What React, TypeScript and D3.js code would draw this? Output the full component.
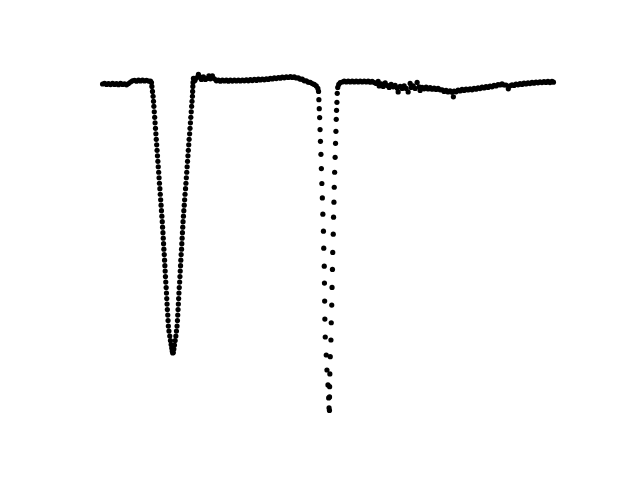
import React from "react";
import * as d3 from "d3";

// light curve readings: [time (min), relative flux (%)]
const preIngress: [number, number][] = [
  [0, 99.6], [4, 99.75], [8, 99.5], [12, 99.7], [16, 99.45], [20, 99.75],
  [24, 99.5], [28, 99.68], [32, 99.42], [36, 99.75], [40, 99.5], [44, 99.65],
  [48, 99.4], [52, 99.7], [56, 100.1], [60, 100.4], [64, 100.5], [68, 100.28],
  [72, 100.55], [76, 100.35], [80, 100.6], [84, 100.35], [88, 100.52],
  [92, 100.32], [96, 100.3], [98, 99.95],
];

const primaryIngress: [number, number][] = [
  [98.8, 99.0], [100.0, 97.75], [101.2, 96.5], [102.1, 95.25], [102.8, 94.0],
  [103.6, 92.62], [104.4, 91.25], [105.2, 89.88], [106.0, 88.5], [106.8, 87.12],
  [107.6, 85.75], [108.4, 84.38], [109.2, 83.0], [110.0, 81.62], [110.8, 80.25],
  [111.6, 78.88], [112.4, 77.5], [113.2, 76.12], [114.0, 74.75], [114.8, 73.38],
  [115.6, 72.0], [116.4, 70.62], [117.2, 69.25], [118.0, 67.88], [118.8, 66.5],
  [119.6, 65.12], [120.2, 63.75], [121.0, 62.38], [121.6, 61.0], [122.2, 59.62],
  [122.8, 58.25], [123.6, 56.88], [124.2, 55.5], [124.8, 54.12], [125.4, 52.75],
  [126.0, 51.38], [126.6, 50.0], [127.4, 48.62], [128.0, 47.25], [128.6, 45.88],
  [129.2, 44.5], [129.8, 43.12], [130.6, 41.75], [131.2, 40.38], [131.8, 39.0],
  [133.0, 37.75], [134.6, 36.5], [136.0, 35.38], [137.4, 34.38], [138.6, 33.5],
  [139.6, 32.75], [140.6, 32.25], [141.6, 32.38],
];

const primaryEgress: [number, number][] = [
  [142.8, 33.25], [144.0, 34.25], [145.4, 35.38], [146.8, 36.5], [148.0, 37.75],
  [149.2, 39.0], [150.0, 40.38], [150.6, 41.75], [151.2, 43.12], [151.8, 44.5],
  [152.4, 45.88], [153.0, 47.25], [153.6, 48.62], [154.4, 50.0], [155.0, 51.38],
  [155.6, 52.75], [156.2, 54.12], [156.8, 55.5], [157.4, 56.88], [158.2, 58.25],
  [158.8, 59.62], [159.4, 61.0], [160.0, 62.38], [160.6, 63.75], [161.2, 65.12],
  [162.0, 66.5], [162.8, 67.88], [163.6, 69.25], [164.4, 70.62], [165.2, 72.0],
  [166.2, 73.38], [167.0, 74.75], [167.8, 76.12], [168.6, 77.5], [169.4, 78.88],
  [170.2, 80.25], [171.0, 81.62], [171.8, 83.0], [172.6, 84.38], [173.4, 85.75],
  [174.4, 87.12], [175.2, 88.5], [176.0, 89.88], [176.8, 91.25], [177.6, 92.62],
  [178.4, 94.0], [179.2, 95.25], [180.0, 96.5], [180.4, 97.75], [180.8, 99.0],
  [181.2, 100.0],
];

const midOrbit: [number, number][] = [
  [182, 101.0], [185, 100.5], [188, 101.12], [192, 102.0], [195, 101.38],
  [198, 100.75], [202, 101.38], [206, 100.75], [210, 101.0], [213, 101.62],
  [216, 100.88], [220, 101.62], [224, 100.88], [228, 100.38], [232, 100.6],
  [236, 100.3], [240, 100.6], [244, 100.35], [248, 100.55], [252, 100.3],
  [256, 100.6], [260, 100.32], [264, 100.58], [268, 100.35], [272, 100.6],
  [276, 100.35], [280, 100.6], [284, 100.4], [288, 100.65], [292, 100.4],
  [296, 100.7], [300, 100.45], [304, 100.75], [308, 100.5], [312, 100.8],
  [316, 100.6], [320, 100.85], [324, 100.65], [328, 100.9], [332, 100.75],
  [336, 101.02], [340, 100.85], [344, 101.12], [348, 100.95], [352, 101.22],
  [356, 101.05], [360, 101.32], [364, 101.15], [368, 101.4], [372, 101.22],
  [376, 101.45], [380, 101.25], [384, 101.4], [388, 101.1], [392, 101.15],
  [396, 100.8], [400, 100.8], [404, 100.4], [408, 100.4], [412, 100.05],
  [416, 100.0], [420, 99.7], [424, 99.5], [428, 99.12],
];

const secondaryIngress: [number, number][] = [
  [431.2, 98.5], [432.6, 97.75], [433.2, 95.68], [434.0, 93.42], [434.8, 91.18],
  [435.6, 88.18], [436.4, 85.25], [437.4, 82.0], [438.2, 78.42], [439.2, 74.68],
  [440.2, 71.08], [441.2, 67.0], [442.4, 62.75], [443.0, 58.5], [444.0, 54.0],
  [444.4, 49.75], [444.8, 45.25], [445.2, 40.75], [446.0, 36.25], [448.0, 31.75],
  [449.4, 28.0], [451.4, 24.25], [452.8, 21.0], [453.6, 18.5],
];

const secondaryEgress: [number, number][] = [
  [454.4, 17.88], [454.6, 21.25], [454.8, 23.82], [455.2, 27.0], [456.0, 31.32],
  [457.4, 35.5], [458.0, 39.82], [459.0, 44.25], [459.6, 48.68], [460.4, 53.18],
  [461.0, 57.42], [462.0, 62.0], [462.6, 66.25], [463.4, 70.0], [464.0, 73.75],
  [464.8, 77.5], [465.8, 81.25], [466.6, 84.75], [467.4, 87.75], [468.0, 90.75],
  [468.6, 93.0], [469.4, 95.0], [470.0, 97.25], [471.0, 98.75],
];

const postEgress: [number, number][] = [
  [473, 99.5], [476, 99.95], [480, 100.1], [484, 100.35], [488, 100.1],
  [492, 100.35], [496, 100.1], [500, 100.35], [504, 100.1], [508, 100.35],
  [512, 100.1], [516, 100.35], [520, 100.1], [524, 100.35], [528, 100.1],
  [532, 100.3], [536, 100.05], [540, 100.25], [544, 99.95], [548, 99.75],
  [552, 100.25], [554, 99.12], [558, 99.62], [562, 99.0], [566, 99.88],
  [570, 99.25], [574, 98.75], [578, 99.5], [582, 98.88], [586, 99.25],
  [590, 98.62], [592, 97.62], [596, 99.0], [600, 98.5], [604, 99.12],
  [608, 98.5], [612, 97.62], [616, 99.75], [618, 98.75], [622, 99.12],
  [626, 98.5], [630, 100.0], [634, 98.88], [636, 98.0], [640, 98.75],
  [644, 98.38], [648, 98.8], [652, 98.35], [656, 98.7], [660, 98.3],
  [664, 98.6], [668, 98.25], [672, 98.5], [676, 98.15], [680, 98.15],
  [684, 97.75], [688, 98.0], [692, 97.6], [696, 97.9], [700, 97.5],
  [702.6, 96.38], [704, 97.85], [708, 97.65], [712, 98.05], [716, 97.85],
  [720, 98.25], [724, 98.0], [728, 98.35], [732, 98.1], [736, 98.4],
  [740, 98.15], [744, 98.5], [748, 98.3], [752, 98.65], [756, 98.45],
  [760, 98.8], [764, 98.6], [768, 98.95], [772, 98.75], [776, 99.1],
  [780, 98.9], [784, 99.25], [788, 99.1], [792, 99.45], [796, 99.35],
  [800, 99.65], [804, 99.35], [808, 99.35], [812.6, 98.38], [816, 99.15],
  [820, 99.4], [824, 99.25], [828, 99.6], [832, 99.4], [836, 99.7],
  [840, 99.5], [844, 99.8], [848, 99.6], [852, 99.9], [856, 99.7],
  [860, 100.0], [864, 99.8], [868, 100.1], [872, 99.9], [876, 100.15],
  [880, 99.95], [884, 100.2], [888, 100.0], [892, 100.25], [896, 99.95],
  [900, 100.25], [903, 100.05],
];

const width = 640;
const height = 480;
// matplotlib-like axes box (axis hidden)
const margin = { left: 80, right: 64, top: 57.6, bottom: 52.8 };

const padded = (ext: [number, number]): [number, number] => {
  const pad = (ext[1] - ext[0]) * 0.05;
  return [ext[0] - pad, ext[1] + pad];
};

export default function App() {
  const points = [
    ...preIngress,
    ...primaryIngress,
    ...primaryEgress,
    ...midOrbit,
    ...secondaryIngress,
    ...secondaryEgress,
    ...postEgress,
  ];

  const x = d3
    .scaleLinear()
    .domain(padded(d3.extent(points, (d) => d[0]) as [number, number]))
    .range([margin.left, width - margin.right]);
  const y = d3
    .scaleLinear()
    .domain(padded(d3.extent(points, (d) => d[1]) as [number, number]))
    .range([height - margin.bottom, margin.top]);

  return (
    <svg
      width={width}
      height={height}
      style={{ position: "absolute", left: 0, top: 0, background: "#fff" }}
    >
      <rect width={width} height={height} fill="#fff" />
      <g>
        {points.map((d, i) => (
          <circle key={i} cx={x(d[0])} cy={y(d[1])} r={2.6} fill="#000" />
        ))}
      </g>
    </svg>
  );
}
